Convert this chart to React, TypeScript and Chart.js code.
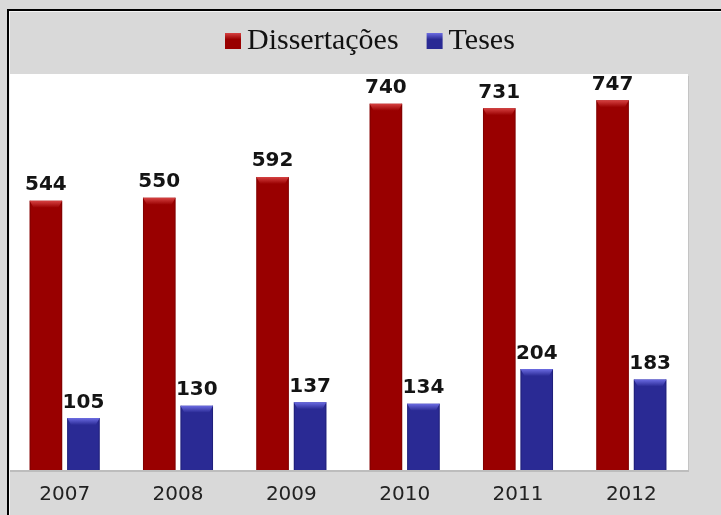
import React, { useEffect, useRef } from 'react';
import { Chart, registerables } from 'chart.js';

Chart.register(...registerables);

const categories = ['2007', '2008', '2009', '2010', '2011', '2012'];
const dissertacoes = [544, 550, 592, 740, 731, 747];
const teses = [105, 130, 137, 134, 204, 183];
const seriesNames = ['Dissertações', 'Teses'];
const yMax = 800;

const RED = '#990000';
const RED_LIGHT = '#d64242';
const RED_EDGE = '#6e0000';
const BLUE = '#2a2a94';
const BLUE_LIGHT = '#6c6ce2';
const BLUE_EDGE = '#1a1a66';
const BG = '#d9d9d9';

const bodyColors = [RED, BLUE];
const lightColors = [RED_LIGHT, BLUE_LIGHT];
const edgeColors = [RED_EDGE, BLUE_EDGE];

const backdropPlugin = {
  id: 'backdrop',
  beforeDraw(chart: any) {
    const { ctx, chartArea: a, width, height } = chart;
    ctx.save();
    ctx.fillStyle = BG;
    ctx.fillRect(0, 0, width, height);
    ctx.fillStyle = '#ffffff';
    ctx.fillRect(a.left, a.top, a.right - a.left, a.bottom - a.top);
    // subtle right edge shading
    ctx.fillStyle = '#c4c4c4';
    ctx.fillRect(a.right, a.top + 2, 1, a.bottom - a.top);
    ctx.restore();
  },
};

const bevelPlugin = {
  id: 'bevel',
  afterDatasetsDraw(chart: any) {
    const { ctx, chartArea: a } = chart;
    ctx.save();
    chart.data.datasets.forEach((ds: any, di: number) => {
      const meta = chart.getDatasetMeta(di);
      meta.data.forEach((bar: any) => {
        const { x, y, base, width } = bar.getProps(['x', 'y', 'base', 'width'], true);
        const left = x - width / 2;
        const right = x + width / 2;
        // side edges
        ctx.fillStyle = edgeColors[di];
        ctx.globalAlpha = 0.55;
        ctx.fillRect(left, y, 1, base - y);
        ctx.fillRect(right - 1, y, 1, base - y);
        ctx.globalAlpha = 1;
        // top bevel
        const h = 7;
        const g = ctx.createLinearGradient(0, y, 0, y + h);
        g.addColorStop(0, lightColors[di]);
        g.addColorStop(1, bodyColors[di]);
        ctx.fillStyle = g;
        ctx.beginPath();
        ctx.moveTo(left, y);
        ctx.lineTo(right, y);
        ctx.lineTo(right - 4, y + h);
        ctx.lineTo(left + 4, y + h);
        ctx.closePath();
        ctx.fill();
      });
    });
    // axis line
    ctx.fillStyle = '#bdbdbd';
    ctx.fillRect(a.left, a.bottom, a.right - a.left + 1, 2);
    ctx.restore();
  },
};

const labelPlugin = {
  id: 'valueLabels',
  afterDatasetsDraw(chart: any) {
    const { ctx } = chart;
    ctx.save();
    ctx.font = 'bold 20px "DejaVu Sans"';
    ctx.fillStyle = '#141414';
    ctx.textAlign = 'center';
    ctx.textBaseline = 'alphabetic';
    chart.data.datasets.forEach((ds: any, di: number) => {
      const meta = chart.getDatasetMeta(di);
      meta.data.forEach((bar: any, i: number) => {
        const { x, y } = bar.getProps(['x', 'y'], true);
        ctx.fillText(String(ds.data[i]), x, y - 10.5);
      });
    });
    ctx.restore();
  },
};

const legendAndFramePlugin = {
  id: 'legendFrame',
  afterDraw(chart: any) {
    const { ctx, width, height } = chart;
    ctx.save();
    // custom legend
    ctx.font = '30px "Liberation Serif"';
    ctx.textBaseline = 'alphabetic';
    ctx.textAlign = 'left';
    const baseline = 49;
    const box = 16;
    let x = 225;
    seriesNames.forEach((name, i) => {
      const g = ctx.createLinearGradient(0, baseline - box, 0, baseline);
      g.addColorStop(0, lightColors[i]);
      g.addColorStop(0.4, bodyColors[i]);
      g.addColorStop(1, bodyColors[i]);
      ctx.fillStyle = g;
      ctx.fillRect(x, baseline - box, box, box);
      ctx.fillStyle = '#111111';
      ctx.fillText(name, x + box + 6, baseline);
      x += box + 6 + ctx.measureText(name).width + 28;
    });
    // frame
    ctx.fillStyle = '#f4f4f4';
    ctx.fillRect(9, 11, width, 1);
    ctx.fillRect(9, 11, 1, height);
    ctx.fillStyle = '#000000';
    ctx.fillRect(7, 9, width, 2);
    ctx.fillRect(7, 9, 2, height);
    ctx.restore();
  },
};

export default function App() {
  const ref = useRef<HTMLCanvasElement | null>(null);

  useEffect(() => {
    if (!ref.current) return;
    const chart = new Chart(ref.current, {
      type: 'bar',
      data: {
        labels: categories,
        datasets: [
          {
            label: seriesNames[0],
            data: dissertacoes,
            backgroundColor: RED,
            categoryPercentage: 0.662,
            barPercentage: 0.867,
          },
          {
            label: seriesNames[1],
            data: teses,
            backgroundColor: BLUE,
            categoryPercentage: 0.662,
            barPercentage: 0.867,
          },
        ],
      },
      options: {
        responsive: false,
        animation: false,
        devicePixelRatio: 1,
        layout: { padding: { top: 74, left: 8, right: 33, bottom: 0 } },
        plugins: {
          legend: { display: false },
          tooltip: { enabled: false },
          title: { display: false },
        },
        scales: {
          x: {
            grid: { display: false, drawTicks: false },
            border: { display: false },
            ticks: {
              font: { family: 'DejaVu Sans', size: 20 },
              color: '#222222',
              padding: 13,
            },
            afterFit: (scale: any) => {
              scale.height = 45;
            },
          },
          y: {
            display: false,
            min: 0,
            max: yMax,
          },
        },
      },
      plugins: [backdropPlugin, bevelPlugin, labelPlugin, legendAndFramePlugin],
    });
    return () => chart.destroy();
  }, []);

  return (
    <div style={{ position: 'fixed', left: 0, top: 0, width: 721, height: 515 }}>
      <canvas ref={ref} width={721} height={515} />
    </div>
  );
}
